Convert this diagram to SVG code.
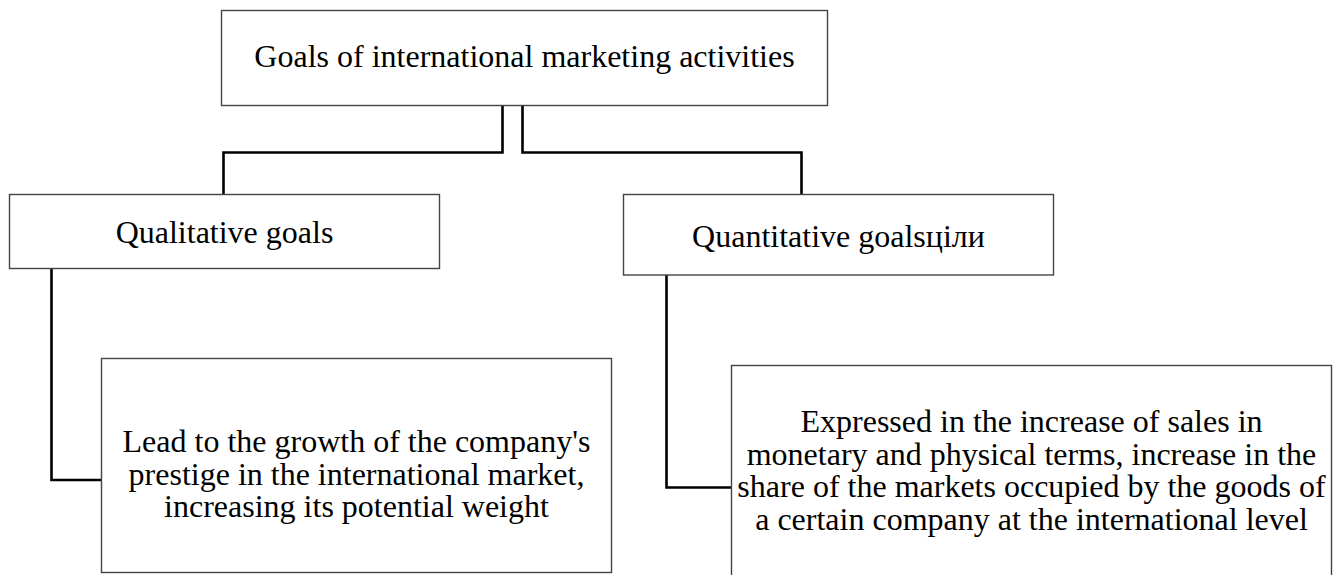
<svg xmlns="http://www.w3.org/2000/svg" width="1338" height="575" viewBox="0 0 1338 575">
<style>
.box{fill:#ffffff;stroke:#444444;stroke-width:1.4}
.conn{fill:none;stroke:#000000;stroke-width:2.6;stroke-linejoin:miter}
.t{font-family:"Liberation Serif","Times New Roman",serif;font-size:32px;fill:#000000;text-anchor:middle}
</style>
<rect x="0" y="0" width="1338" height="575" fill="#ffffff"/>
<g id="connectors">
<path class="conn" d="M502.5,105.5 V152.5 H223.5 V194.5"/>
<path class="conn" d="M522.5,105.5 V152.5 H801.5 V194.5"/>
<path class="conn" d="M51.5,268.5 V480 H101.5"/>
<path class="conn" d="M666.5,275 V487.5 H731.5"/>
</g>
<g id="goals">
<rect class="box" x="221.5" y="10.5" width="606" height="95"/>
<text class="t" x="524.5" y="67">Goals of international marketing activities</text>
</g>
<g id="qualitative">
<rect class="box" x="9.5" y="194.5" width="430" height="74"/>
<text class="t" x="224.5" y="243">Qualitative goals</text>
</g>
<g id="quantitative">
<rect class="box" x="623.5" y="194.5" width="430" height="80.5"/>
<text class="t" x="838.5" y="246.5">Quantitative goalsціли</text>
</g>
<g id="qualitative-detail">
<rect class="box" x="101.5" y="358.5" width="510" height="214"/>
<text class="t" x="356.5" y="452">Lead to the growth of the company's</text>
<text class="t" x="356.5" y="484.5">prestige in the international market,</text>
<text class="t" x="356.5" y="517">increasing its potential weight</text>
</g>
<g id="quantitative-detail">
<rect class="box" x="731.5" y="365.5" width="600" height="216"/>
<text class="t" x="1031.5" y="432">Expressed in the increase of sales in</text>
<text class="t" x="1031.5" y="464.5">monetary and physical terms, increase in the</text>
<text class="t" x="1031.5" y="497">share of the markets occupied by the goods of</text>
<text class="t" x="1031.5" y="529.5">a certain company at the international level</text>
</g>
</svg>
